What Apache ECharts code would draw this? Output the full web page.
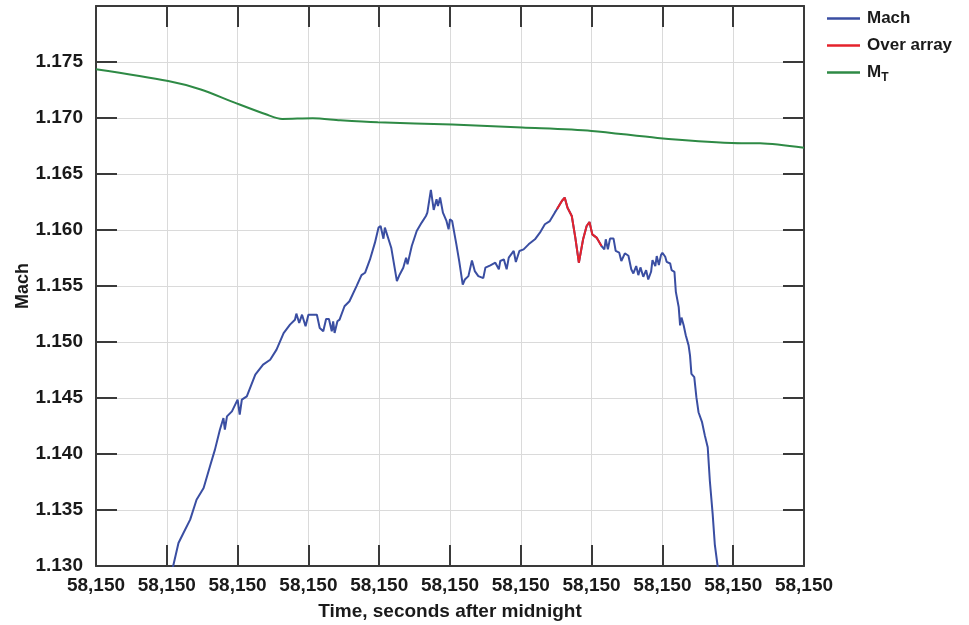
<!DOCTYPE html>
<html>
<head>
<meta charset="utf-8">
<script src="https://cdn.jsdelivr.net/npm/echarts@6/dist/echarts.min.js"></script>
<style>
html,body{margin:0;padding:0;background:#fff;}
#chart{width:969px;height:625px;}
</style>
</head>
<body>
<div id="chart"></div>
<script>
// x values are in tick units (one tick = one "58,150" label step)
var tickLabels = ['58,150','58,150','58,150','58,150','58,150','58,150','58,150','58,150','58,150','58,150','58,150'];

var machTime = [1.08,1.09,1.165,1.235,1.33,1.42,1.52,1.61,1.68,1.75,1.80,1.82,1.85,1.92,2.00,2.03,2.06,2.13,2.25,2.36,2.46,2.55,2.65,2.74,2.81,2.83,2.87,2.91,2.96,3.00,3.12,3.16,3.21,3.25,3.29,3.33,3.35,3.37,3.41,3.44,3.51,3.58,3.68,3.75,3.80,3.87,3.94,3.99,4.02,4.06,4.08,4.10,4.17,4.25,4.29,4.34,4.38,4.40,4.46,4.53,4.60,4.66,4.68,4.73,4.77,4.81,4.83,4.86,4.90,4.95,4.98,5.00,5.03,5.09,5.13,5.18,5.21,5.26,5.31,5.35,5.40,5.47,5.50,5.57,5.64,5.69,5.71,5.76,5.80,5.83,5.90,5.93,5.98,6.04,6.11,6.20,6.27,6.34,6.41,6.48,6.51,6.58,6.62,6.66,6.72,6.77,6.82,6.88,6.93,6.97,7.01,7.07,7.14,7.18,7.20,7.23,7.26,7.31,7.34,7.39,7.42,7.47,7.52,7.56,7.59,7.63,7.66,7.69,7.73,7.77,7.80,7.84,7.86,7.90,7.92,7.95,7.98,8.00,8.04,8.06,8.11,8.13,8.17,8.19,8.23,8.25,8.27,8.30,8.33,8.37,8.39,8.41,8.45,8.48,8.51,8.56,8.60,8.64,8.67,8.71,8.74,8.78,8.80];
var machValue = [1.1297,1.1300,1.13205,1.13295,1.13414,1.13592,1.13696,1.13890,1.14039,1.14217,1.14321,1.14217,1.14336,1.14381,1.14485,1.14351,1.14485,1.14515,1.14708,1.14798,1.14842,1.14932,1.15080,1.15155,1.15199,1.15253,1.15170,1.15244,1.15140,1.15244,1.15244,1.15125,1.15096,1.15206,1.15206,1.15096,1.15185,1.15081,1.15185,1.15200,1.15319,1.15364,1.15499,1.15597,1.15618,1.15737,1.15887,1.16021,1.16036,1.15922,1.16021,1.16021,1.15842,1.15543,1.15603,1.15663,1.15752,1.15693,1.15857,1.15991,1.16066,1.16125,1.16155,1.16358,1.16179,1.16275,1.16215,1.16290,1.16155,1.16081,1.16006,1.16096,1.16081,1.15872,1.15722,1.15513,1.15558,1.15588,1.15728,1.15633,1.15588,1.15570,1.15664,1.15685,1.15708,1.15649,1.15723,1.15738,1.15649,1.15753,1.15813,1.15714,1.15813,1.15827,1.15872,1.15917,1.15976,1.16051,1.16080,1.16155,1.16185,1.16259,1.16289,1.16199,1.16125,1.15932,1.15708,1.15917,1.16036,1.16071,1.15961,1.15932,1.15857,1.15827,1.15917,1.15827,1.15923,1.15923,1.15813,1.15798,1.15723,1.15792,1.15770,1.15650,1.15612,1.15678,1.15597,1.15666,1.15582,1.15642,1.15558,1.15627,1.15731,1.15678,1.15767,1.15687,1.15776,1.15797,1.15761,1.15716,1.15701,1.15642,1.15627,1.15448,1.15313,1.15149,1.15218,1.15149,1.15060,1.14970,1.14881,1.14716,1.14687,1.14507,1.14373,1.14284,1.14164,1.14060,1.13761,1.13463,1.13194,1.1300,1.1293];

// "Over array" portion of the Mach trace (time window)
var overArrayStart = 6.51;
var overArrayEnd = 7.14;

var mtTime = [0,1.02,1.48,1.94,2.40,2.63,3.06,3.45,3.98,5.03,6.02,7.00,7.93,8.98,9.38,10];
var mtValue = [1.17435,1.17330,1.17255,1.17142,1.17033,1.16991,1.16998,1.16980,1.16962,1.16942,1.16915,1.16885,1.16822,1.16777,1.16774,1.16735];

var machData = machTime.map(function(t,i){return [t, machValue[i]];});
var overData = machData.filter(function(p){return p[0] >= overArrayStart && p[0] <= overArrayEnd;});
var mtData = mtTime.map(function(t,i){return [t, mtValue[i]];});

var FONT = "'Liberation Sans', Arial, Helvetica, sans-serif";
var AXC = '#3a3a3a';
var GRIDC = '#dadada';

var chart = echarts.init(document.getElementById('chart'), null, {renderer:'canvas'});
chart.setOption({
  animation: false,
  backgroundColor: '#fff',
  grid: {left: 96, right: 165, top: 6, bottom: 59, containLabel: false, outerBoundsMode: 'none'},
  legend: {
    orient: 'vertical', left: 822, top: 5, itemGap: 10,
    icon: 'rect', itemWidth: 33, itemHeight: 2.5,
    textStyle: {fontFamily: FONT, fontWeight: 'bold', fontSize: 17, color: '#1a1a1a', padding: [0,0,0,2],
      rich: {
        m: {fontFamily: FONT, fontWeight: 'bold', fontSize: 17, color: '#1a1a1a'},
        s: {fontFamily: FONT, fontWeight: 'bold', fontSize: 12, color: '#1a1a1a', padding: [10,0,0,0]}
      }},
    formatter: function(name){ return name === 'MT' ? '{m|M}{s|T}' : name; },
    data: ['Mach','Over array','MT']
  },
  xAxis: [{
    type: 'value', min: 0, max: 10, interval: 1,
    name: 'Time, seconds after midnight', nameLocation: 'middle', nameGap: 36, nameMoveOverlap: false,
    nameTextStyle: {fontFamily: FONT, fontWeight: 'bold', fontSize: 19, color: '#1a1a1a'},
    axisLine: {show: true, onZero: false, lineStyle: {color: AXC, width: 2}},
    axisTick: {show: true, inside: true, length: 21, lineStyle: {color: AXC, width: 2}},
    axisLabel: {fontFamily: FONT, fontWeight: 'bold', fontSize: 19, color: '#1a1a1a', margin: 10,
      formatter: function(v){ return tickLabels[Math.round(v)]; }},
    splitLine: {show: true, lineStyle: {color: GRIDC, width: 1}}
  },{
    type: 'value', position: 'top', min: 0, max: 10, interval: 1,
    axisLine: {show: true, onZero: false, lineStyle: {color: AXC, width: 2}},
    axisTick: {show: true, inside: true, length: 21, lineStyle: {color: AXC, width: 2}},
    axisLabel: {show: false}, splitLine: {show: false}
  }],
  yAxis: [{
    type: 'value', min: 1.13, max: 1.18, interval: 0.005,
    name: 'Mach', nameLocation: 'middle', nameGap: 64, nameRotate: 90, nameMoveOverlap: false,
    nameTextStyle: {fontFamily: FONT, fontWeight: 'bold', fontSize: 18, color: '#1a1a1a'},
    axisLine: {show: true, onZero: false, lineStyle: {color: AXC, width: 2}},
    axisTick: {show: true, inside: true, length: 21, lineStyle: {color: AXC, width: 2}},
    axisLabel: {fontFamily: FONT, fontWeight: 'bold', fontSize: 19, color: '#1a1a1a', margin: 13,
      formatter: function(v){ return v > 1.1799 ? '' : v.toFixed(3); }},
    splitLine: {show: true, lineStyle: {color: GRIDC, width: 1}}
  },{
    type: 'value', position: 'right', min: 1.13, max: 1.18, interval: 0.005,
    axisLine: {show: true, onZero: false, lineStyle: {color: AXC, width: 2}},
    axisTick: {show: true, inside: true, length: 21, lineStyle: {color: AXC, width: 2}},
    axisLabel: {show: false}, splitLine: {show: false}
  }],
  series: [{
    name: 'Mach', type: 'line', data: machData, symbol: 'none', clip: true,
    lineStyle: {color: '#3a4ea2', width: 2}, itemStyle: {color: '#3a4ea2'}, z: 3
  },{
    name: 'Over array', type: 'line', data: overData, symbol: 'none', clip: true,
    lineStyle: {color: '#e5222b', width: 2}, itemStyle: {color: '#e5222b'}, z: 4
  },{
    name: 'MT', type: 'line', data: mtData, symbol: 'none', smooth: 0.3, clip: true,
    lineStyle: {color: '#2e8a45', width: 2}, itemStyle: {color: '#2e8a45'}, z: 3
  }]
});
</script>
</body>
</html>
